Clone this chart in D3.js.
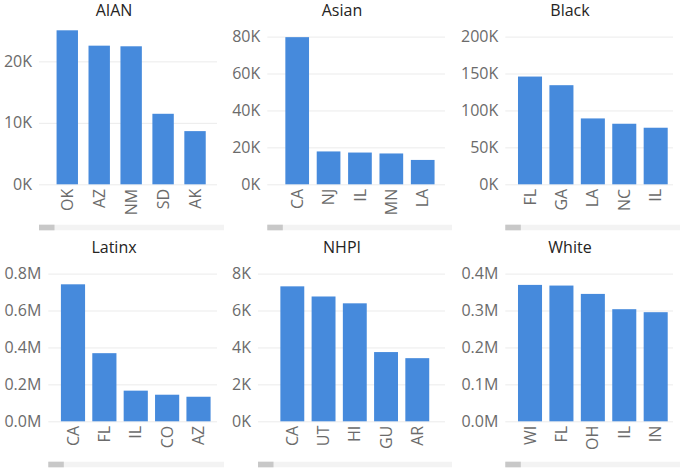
<!DOCTYPE html>
<html>
<head>
<meta charset="utf-8">
<script src="https://cdn.jsdelivr.net/npm/d3@7"></script>
<style>
  body { margin: 0; background: #fff; }
  svg { display: block; font-family: "Segoe UI", "Open Sans", sans-serif; }
</style>
</head>
<body>
<svg id="chart" width="685" height="473"></svg>
<script>
// data
const groups = ["AIAN", "Asian", "Black", "Latinx", "NHPI", "White"];
const states = [
  ["OK", "AZ", "NM", "SD", "AK"],
  ["CA", "NJ", "IL", "MN", "LA"],
  ["FL", "GA", "LA", "NC", "IL"],
  ["CA", "FL", "IL", "CO", "AZ"],
  ["CA", "UT", "HI", "GU", "AR"],
  ["WI", "FL", "OH", "IL", "IN"]
];
const values = [
  [25050, 22550, 22450, 11470, 8650],
  [79700, 17800, 17200, 16700, 13200],
  [145900, 134200, 89200, 82000, 76600],
  [742000, 369000, 166000, 144000, 133000],
  [7310, 6760, 6390, 3750, 3420],
  [369400, 367600, 345000, 303600, 295500]
];
const yTicks = [
  [0, 10000, 20000],
  [0, 20000, 40000, 60000, 80000],
  [0, 50000, 100000, 150000, 200000],
  [0, 200000, 400000, 600000, 800000],
  [0, 2000, 4000, 6000, 8000],
  [0, 100000, 200000, 300000, 400000]
];
const yMax = [25050, 80000, 200000, 800000, 8000, 400000];
const units = ["K", "K", "K", "M", "K", "M"];

// layout (local panel coords)
const panelX = [0, 228, 456, 0, 228, 456];
const panelY = [0, 0, 0, 237, 237, 237];
const gridX0 = [39, 39.3, 49.3, 48.3, 30, 49.3];
const bandX = [[51.3, 211], [53.5, 210.4], [58.3, 215.4], [57.3, 214.2], [48.7, 204.9], [58.3, 215.4]];
const barPad = [0.33, 0.245, 0.235, 0.23, 0.235, 0.235];
const gridX1 = 217, bottom = 184.3;

const fmt = (u) => u === "K" ? d => (d / 1000) + "K" : d => (d / 1e6).toFixed(1) + "M";

const svg = d3.select("#chart");

groups.forEach((name, i) => {
  const g = svg.append("g").attr("transform", `translate(${panelX[i]},${panelY[i]})`);
  const lastTick = yTicks[i][yTicks[i].length - 1];
  // plot area reaches higher when the data runs past the last tick
  const top = yMax[i] > lastTick ? 30.3 : 36.6;

  const y = d3.scaleLinear().domain([0, yMax[i]]).range([bottom, top]);
  const x = d3.scaleBand().domain(states[i]).range(bandX[i]).paddingInner(barPad[i]).paddingOuter(barPad[i] / 2);

  g.append("text")
    .attr("x", 114).attr("y", 15.5)
    .attr("text-anchor", "middle")
    .attr("font-size", 16)
    .attr("fill", "#252423")
    .text(name);

  const yAxis = g.append("g")
    .attr("transform", `translate(${gridX0[i]},0)`)
    .call(d3.axisLeft(y).tickValues(yTicks[i]).tickFormat(fmt(units[i]))
      .tickSizeInner(-(gridX1 - gridX0[i])).tickSizeOuter(0).tickPadding(7));
  yAxis.select(".domain").remove();
  yAxis.selectAll("line").attr("stroke", "#ebebeb");
  yAxis.selectAll("text").attr("font-size", 16).attr("fill", "#6b6b6b")
    .attr("font-family", "Segoe UI, Open Sans, sans-serif");

  g.selectAll("rect.bar")
    .data(values[i])
    .enter().append("rect")
    .attr("class", "bar")
    .attr("x", (d, j) => x(states[i][j]))
    .attr("y", d => y(d))
    .attr("width", x.bandwidth())
    .attr("height", d => bottom - y(d))
    .attr("fill", "#468ADC");

  const xAxis = g.append("g")
    .attr("transform", `translate(0,${bottom})`)
    .call(d3.axisBottom(x).tickSize(0));
  xAxis.select(".domain").remove();
  xAxis.selectAll("text")
    .attr("transform", "rotate(-90)")
    .attr("x", -4.5).attr("y", 0).attr("dy", "0.35em")
    .attr("text-anchor", "end")
    .attr("font-size", 16).attr("fill", "#6b6b6b")
    .attr("font-family", "Segoe UI, Open Sans, sans-serif");

  // scrollbar
  g.append("rect")
    .attr("x", gridX0[i]).attr("y", 224.7)
    .attr("width", 224 - gridX0[i]).attr("height", 5.6)
    .attr("fill", "#f3f3f3");
  g.append("rect")
    .attr("x", gridX0[i]).attr("y", 224.7)
    .attr("width", 15.5).attr("height", 5.6)
    .attr("fill", "#c8c8c8");
});
</script>
</body>
</html>
